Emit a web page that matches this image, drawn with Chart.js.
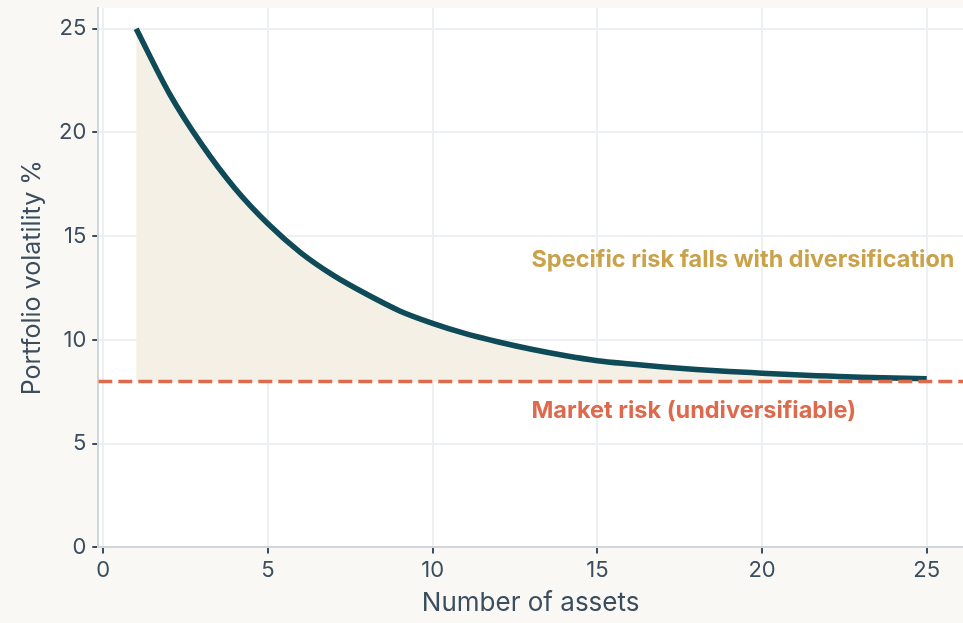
<!DOCTYPE html>
<html>
<head>
<meta charset="utf-8">
<script src="https://cdn.jsdelivr.net/npm/chart.js@4.4.0/dist/chart.umd.min.js"></script>
<style>
  html, body { margin: 0; padding: 0; background: #f9f8f4; }
  #wrap { width: 963px; height: 623px; position: relative; }
</style>
</head>
<body>
<div id="wrap"><canvas id="riskChart"></canvas></div>
<script>
// Data
const assetCounts = [1, 2, 3, 4, 5, 6, 7, 8, 9, 10, 11, 12, 13, 14, 15, 16, 17, 18, 19, 20, 21, 22, 23, 24, 25];
const volatility = [25.0, 21.9, 19.4, 17.3, 15.6, 14.2, 13.1, 12.2, 11.4, 10.8, 10.3, 9.9, 9.55, 9.25, 9.0, 8.84, 8.7, 8.58, 8.48, 8.4, 8.32, 8.26, 8.2, 8.16, 8.13];
const marketRisk = 8;
const xRange = [-0.15, 26.1];
const yRange = [0, 26];
const xTicks = [0, 5, 10, 15, 20, 25];
const yTicks = [0, 5, 10, 15, 20, 25];
const notes = [
    { text: 'Specific risk falls with diversification', x: 13, y: 13.85, color: '#c9a24a' },
    { text: 'Market risk (undiversifiable)', x: 13, y: 6.6, color: '#dd6a4c' }
];

const TEXT = '#3b4d5e';
const FONT = "Inter, 'Noto Sans', sans-serif";

// white plot area behind everything
const plotBg = {
    id: 'plotBg',
    beforeDraw(chart) {
        const { ctx, chartArea: a } = chart;
        ctx.save();
        ctx.fillStyle = '#ffffff';
        ctx.fillRect(a.left, a.top, a.right - a.left, a.bottom - a.top);
        ctx.restore();
    }
};

// text notes placed in data coordinates
const labels = {
    id: 'labels',
    afterDatasetsDraw(chart) {
        const { ctx, scales } = chart;
        ctx.save();
        ctx.font = "bold 23.5px " + FONT;
        ctx.textAlign = 'left';
        ctx.textBaseline = 'middle';
        notes.forEach(n => {
            ctx.fillStyle = n.color;
            ctx.fillText(n.text, scales.x.getPixelForValue(n.x), scales.y.getPixelForValue(n.y));
        });
        ctx.restore();
    }
};

new Chart(document.getElementById('riskChart'), {
    type: 'line',
    data: {
        datasets: [
            {
                label: 'Portfolio volatility',
                data: assetCounts.map((n, i) => ({ x: n, y: volatility[i] })),
                borderColor: '#0e4a57',
                borderWidth: 5.5,
                backgroundColor: '#f5f0e5',
                fill: { target: { value: marketRisk } },
                pointRadius: 0,
                cubicInterpolationMode: 'monotone',
                order: 1
            },
            {
                label: 'Market risk',
                data: xRange.map(x => ({ x: x, y: marketRisk })),
                borderColor: '#df6b4d',
                borderWidth: 3.5,
                borderDash: [14, 6],
                pointRadius: 0,
                fill: false,
                order: 0
            }
        ]
    },
    options: {
        responsive: true,
        maintainAspectRatio: false,
        animation: false,
        layout: { padding: { top: 8, right: 0, left: 13, bottom: 0 } },
        plugins: {
            legend: { display: false },
            tooltip: { enabled: false }
        },
        scales: {
            x: {
                type: 'linear',
                min: xRange[0],
                max: xRange[1],
                afterBuildTicks: s => { s.ticks = xTicks.map(v => ({ value: v })); },
                ticks: { color: TEXT, font: { family: FONT, size: 22 }, padding: 4, maxRotation: 0 },
                grid: { color: '#edf0f2', lineWidth: 2, tickColor: TEXT, tickLength: 6 },
                border: { color: '#cfd7dc', width: 2 },
                title: { display: true, text: 'Number of assets', color: TEXT, font: { family: FONT, size: 26 }, padding: { top: 0 } }
            },
            y: {
                min: yRange[0],
                max: yRange[1],
                afterBuildTicks: s => { s.ticks = yTicks.map(v => ({ value: v })); },
                afterFit: s => { s.paddingTop = 0; },
                ticks: { color: TEXT, font: { family: FONT, size: 22 }, padding: 6 },
                grid: { color: '#edf0f2', lineWidth: 2, tickColor: TEXT, tickLength: 6 },
                border: { color: '#cfd7dc', width: 2 },
                title: { display: true, text: 'Portfolio volatility %', color: TEXT, font: { family: FONT, size: 25 }, padding: { bottom: 6 } }
            }
        }
    },
    plugins: [plotBg, labels]
});
</script>
</body>
</html>
